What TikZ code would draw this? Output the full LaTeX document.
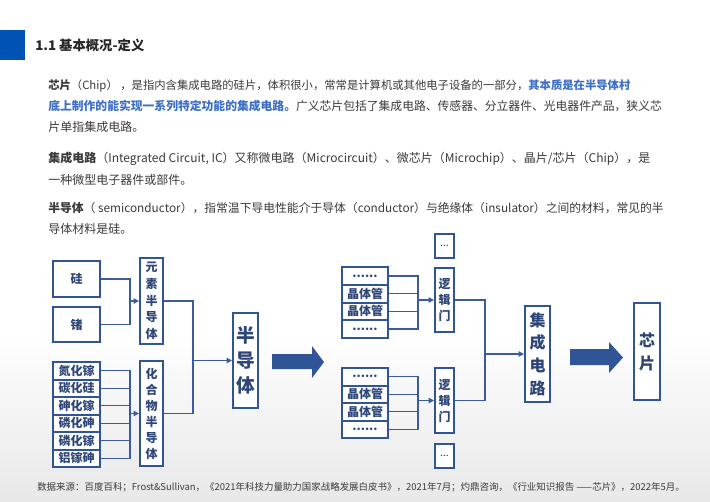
\documentclass[tikz,border=0pt]{standalone}
\usepackage{fontspec}
\setmainfont{Noto Sans CJK SC}
\usepackage{tikz}
\usetikzlibrary{arrows.meta}

\definecolor{titleBlue}{HTML}{0052B4}
\definecolor{boxBlue}{HTML}{2F5597}
\definecolor{lineBlue}{HTML}{3A5C9C}
\definecolor{boxText}{HTML}{2E4677}
\definecolor{keyBlue}{HTML}{3D6FC7}
\definecolor{bodyGray}{HTML}{3A3A3A}

\def\px{0.75pt}
\def\sixDots{......}

\begin{document}
\begin{tikzpicture}[x=0.75pt, y=-0.75pt,
	box/.style={draw=boxBlue, line width=1.5pt, fill=white, text=boxText, inner sep=0pt, align=center, font=\bfseries\fontsize{9}{12}\selectfont},
	link/.style={draw=lineBlue, line width=1pt},
	linkArrow/.style={link, -{Triangle[length=4pt, width=4pt]}},
	bigArrow/.style={fill=boxBlue},
	bodyText/.style={anchor=base west, inner sep=0pt, text=bodyGray, font=\fontsize{9}{12}\selectfont}]

	% page and background
	\useasboundingbox (0,0) rectangle (710,501);
	\fill [white] (0,0) rectangle (710,501);
	\shade [top color=white, bottom color=black!9] (0,330) rectangle (710,501);

	% title
	\fill [titleBlue] (0,30) rectangle (25,60);
	\node [anchor=west, inner sep=0pt, text=black!85, font=\bfseries\fontsize{10}{12}\selectfont] (title) at (35,45) {1.1 基本概况-定义};

	% definitions
	\node [bodyText, font=\fontsize{8.5}{12}\selectfont] (chipA) at (48,89.5) {\textbf{芯片}（Chip） ，是指内含集成电路的硅片，体积很小，常常是计算机或其他电子设备的一部分，\textcolor{keyBlue}{\textbf{其本质是在半导体村}}};
	\node [bodyText, font=\fontsize{8.85}{12}\selectfont] (chipB) at (48,110.5) {\textcolor{keyBlue}{\textbf{底上制作的能实现一系列特定功能的集成电路。}}广义芯片包括了集成电路、传感器、分立器件、光电器件产品，狭义芯};
	\node [bodyText] (chipC) at (48,131.5) {片单指集成电路。};
	\node [bodyText] (icA) at (48,162.5) {\textbf{集成电路}（Integrated Circuit, IC）又称微电路（Microcircuit）、微芯片（Microchip）、晶片/芯片（Chip），是};
	\node [bodyText] (icB) at (48,184.5) {一种微型电子器件或部件。};
	\node [bodyText, font=\fontsize{8.85}{12}\selectfont] (semiA) at (48,212.5) {\textbf{半导体}（ semiconductor），指常温下导电性能介于导体（conductor）与绝缘体（insulator）之间的材料，常见的半};
	\node [bodyText] (semiB) at (48,233.5) {导体材料是硅。};

	% element semiconductors
	\node [box, minimum width=47*\px, minimum height=36*\px] (si) at (76.5,279) {硅};
	\node [box, minimum width=47*\px, minimum height=35*\px] (ge) at (76.5,324.5) {锗};
	\node [box, minimum width=23*\px, minimum height=86*\px, font=\bfseries\fontsize{9}{12.6}\selectfont] (elem) at (151.5,301) {元\\素\\半\\导\\体};

	% compound semiconductors
	\foreach \name [count=\i] in {氮化镓,碳化硅,砷化镓,磷化砷,磷化镓,铝镓砷}
		\node [box, minimum width=47*\px, minimum height=17.5*\px] (cmp\i) at (76.5,{362 + 17.5*(\i - 0.5)}) {\name};
	\node [box, minimum width=23*\px, minimum height=105*\px, font=\bfseries\fontsize{9}{12}\selectfont] (comp) at (151.5,413.5) {化\\合\\物\\半\\导\\体};

	% semiconductor
	\node [box, minimum width=25*\px, minimum height=95*\px, font=\bfseries\fontsize{14}{18.75}\selectfont] (semi) at (245.5,360.5) {半\\导\\体};

	% links into the semiconductor
	\coordinate (elemJoin) at (130,301);
	\draw [link] (si.east) -| (elemJoin) |- (ge.east);
	\draw [linkArrow] (elemJoin) -- (elem.west);
	\coordinate (compJoin) at (130,413.5);
	\foreach \i in {1,...,6}
		\draw [link] (cmp\i.east) -| (compJoin);
	\draw [linkArrow] (compJoin) -- (comp.west);
	\coordinate (semiJoin) at (193,360.5);
	\draw [link] (elem.east) -| (semiJoin) |- (comp.east);
	\draw [linkArrow] (semiJoin) -- (semi.west);

	% first big arrow
	\fill [bigArrow] (272,354) -- (312,354) -- (312,346) -- (324,362) -- (312,378) -- (312,369) -- (272,369) -- cycle;

	% transistors and logic gates
	\foreach \name [count=\i] in {\sixDots,晶体管,晶体管,\sixDots}
		\node [box, minimum width=46*\px, minimum height=17.75*\px] (trA\i) at (365,{267 + 17.75*(\i - 0.5)}) {\name};
	\foreach \name [count=\i] in {\sixDots,晶体管,晶体管,\sixDots}
		\node [box, minimum width=46*\px, minimum height=17.5*\px] (trB\i) at (365,{368 + 17.5*(\i - 0.5)}) {\name};
	\node [box, minimum width=19*\px, minimum height=24*\px, font=\fontsize{8}{10}\selectfont] (moreA) at (444.5,246) {...};
	\node [box, minimum width=19*\px, minimum height=64*\px] (gateA) at (444.5,300) {逻\\辑\\门};
	\node [box, minimum width=19*\px, minimum height=65*\px] (gateB) at (444.5,400.5) {逻\\辑\\门};
	\node [box, minimum width=19*\px, minimum height=24*\px, font=\fontsize{8}{10}\selectfont] (moreB) at (444.5,456) {...};

	% integrated circuit
	\node [box, minimum width=25*\px, minimum height=96*\px, font=\bfseries\fontsize{12}{17}\selectfont] (ic) at (537.5,354) {集\\成\\电\\路};

	% links into the gates and the circuit
	\coordinate (gateJoinA) at (418,300);
	\coordinate (gateJoinB) at (418,400.5);
	\foreach \i in {1,2,3,4} {
		\draw [link] (trA\i.east) -| (gateJoinA);
		\draw [link] (trB\i.east) -| (gateJoinB);
	}
	\draw [linkArrow] (gateJoinA) -- (gateA.west);
	\draw [linkArrow] (gateJoinB) -- (gateB.west);
	\coordinate (icJoin) at (485,354);
	\draw [link] (gateA.east) -| (icJoin) |- (gateB.east);
	\draw [linkArrow] (icJoin) -- (ic.west);

	% second big arrow and the chip
	\fill [bigArrow] (570,349) -- (609,349) -- (609,342) -- (623,357.5) -- (609,373) -- (609,365) -- (570,365) -- cycle;
	\node [box, minimum width=26*\px, minimum height=97*\px, font=\bfseries\fontsize{12}{17.25}\selectfont] (chip) at (647,351.5) {芯\\片};

	% source
	\node [anchor=base west, inner sep=0pt, text=bodyGray, font=\fontsize{7.1}{8}\selectfont] (source) at (37,490) {数据来源：百度百科；Frost\&Sullivan，《2021年科技力量助力国家战略发展白皮书》，2021年7月；灼鼎咨询，《行业知识报告 ——芯片》，2022年5月。};

\end{tikzpicture}
\end{document}
